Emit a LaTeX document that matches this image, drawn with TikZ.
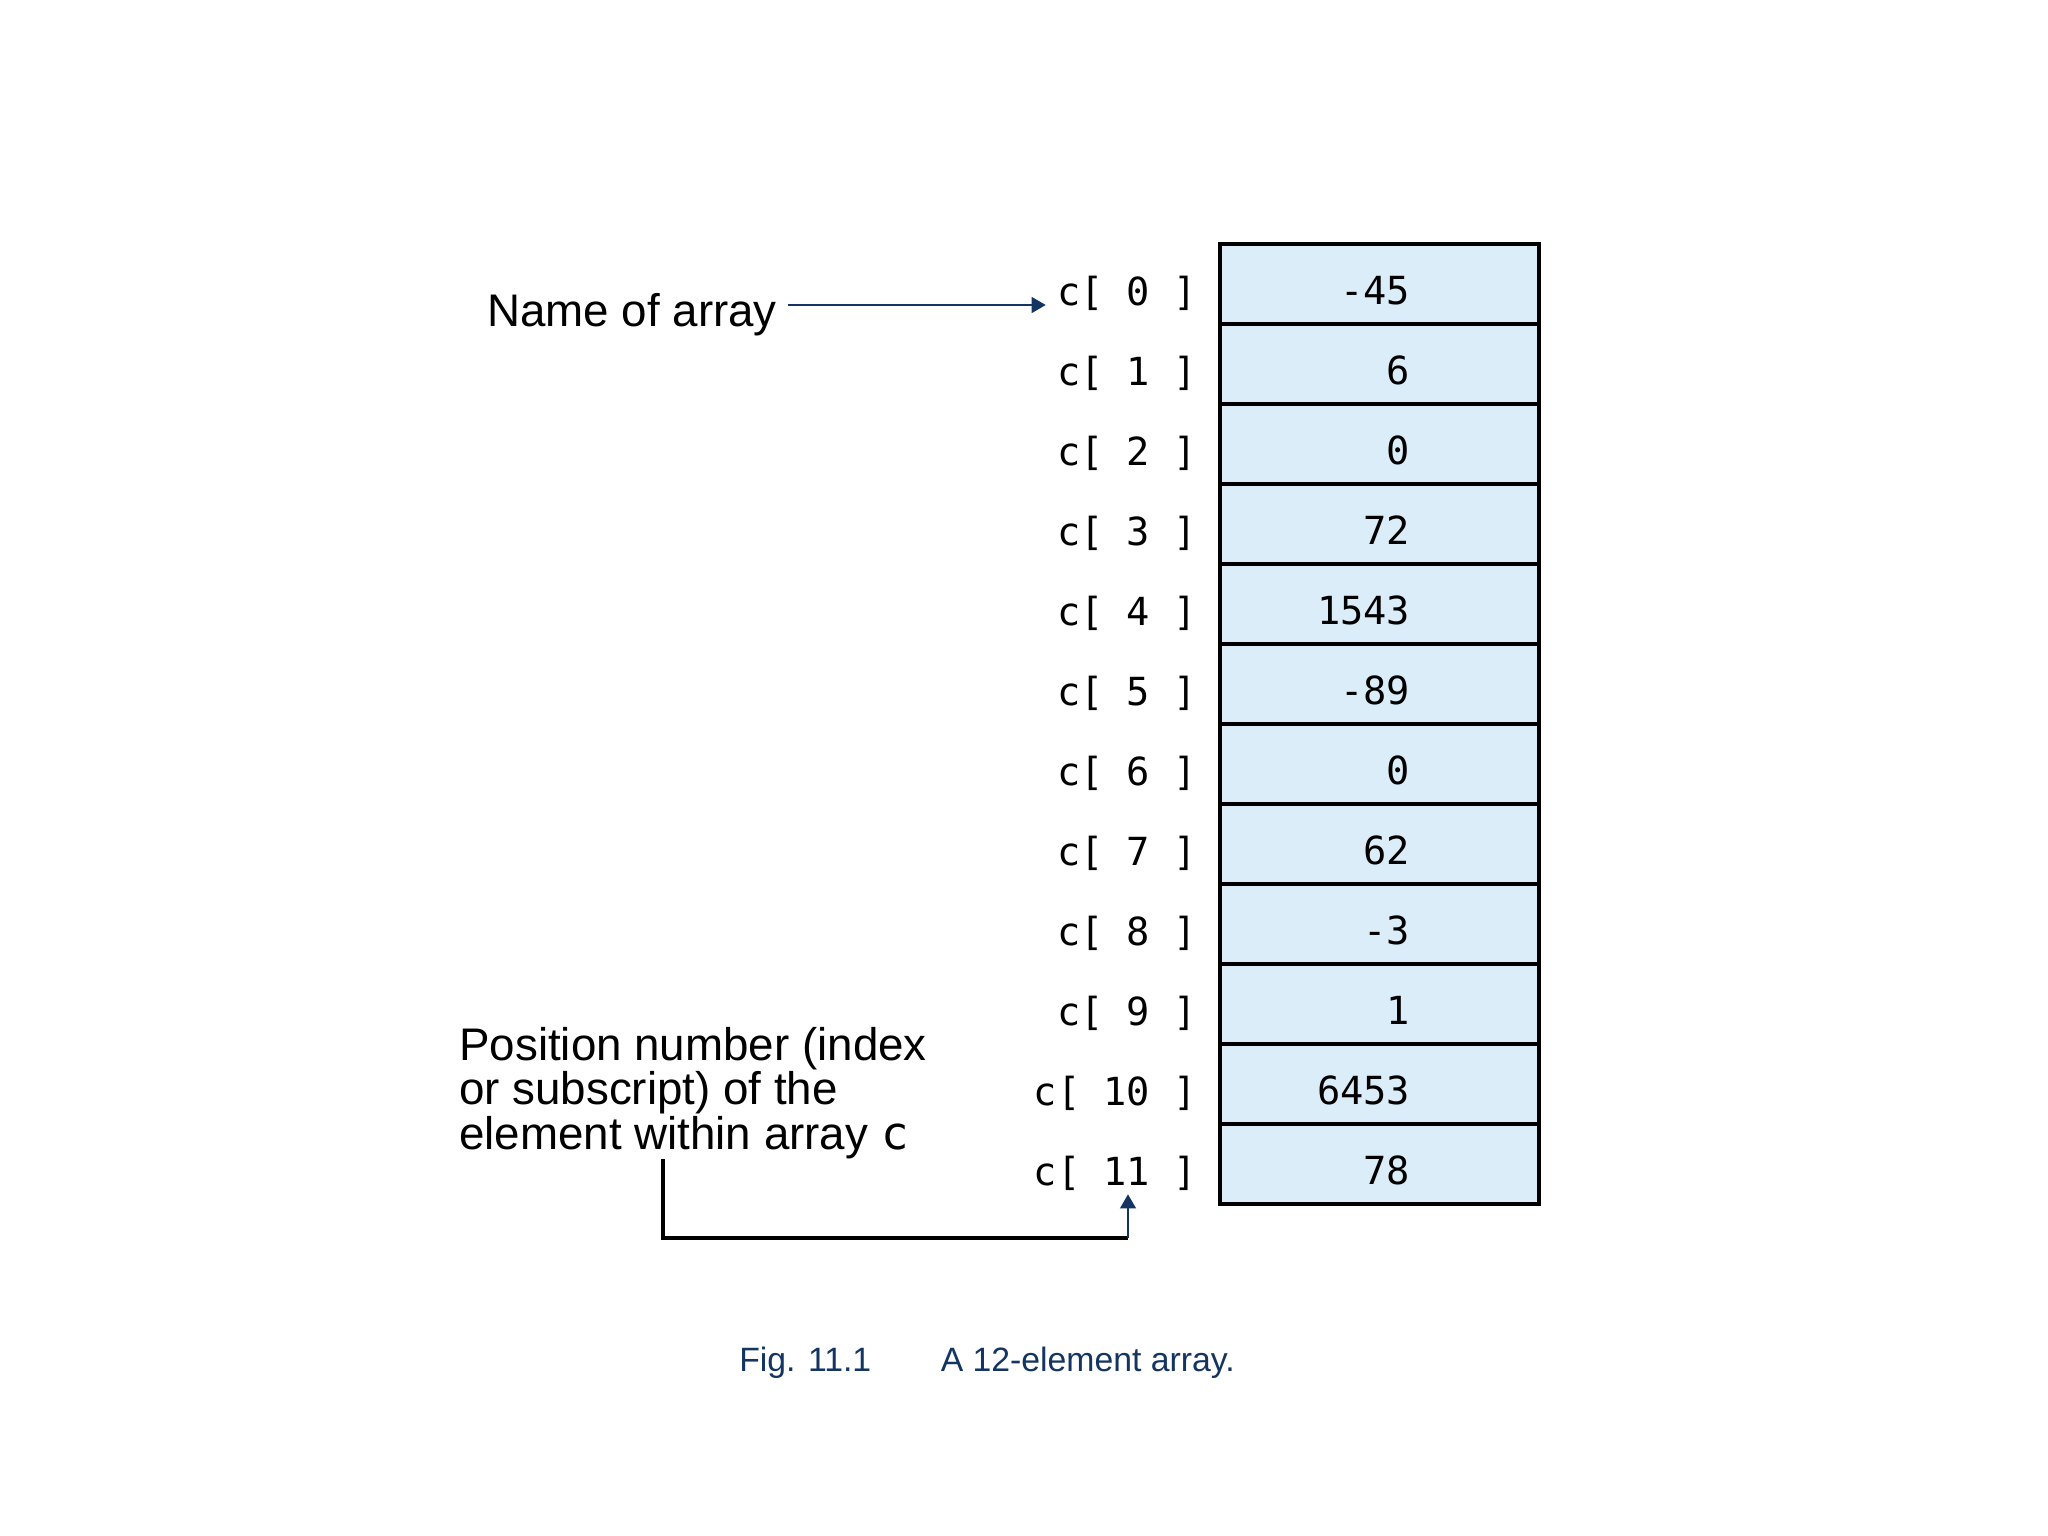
\documentclass[tikz,border=0pt]{standalone}
\usepackage{fontspec}
\setmainfont{Liberation Sans}
\setmonofont{DejaVu Sans Mono}
\usetikzlibrary{arrows.meta,positioning}
\definecolor{cellblue}{RGB}{219,237,248}
\definecolor{figblue}{RGB}{20,52,98}
\begin{document}
\begin{tikzpicture}[x=0.01cm, y=-0.01cm,
	cell/.style={draw, line width=1.2pt, fill=cellblue, minimum width=3.19cm, minimum height=0.8cm, inner sep=0pt},
	code/.style={font=\fontsize{11}{13}\selectfont\ttfamily, inner xsep=3pt, inner ysep=1pt},
	note/.style={font=\fontsize{13}{12.6}\selectfont, inner xsep=3pt, inner ysep=0pt, align=left},
	caption/.style={font=\fontsize{9.6}{12}\selectfont, text=figblue, inner sep=3pt},
	ptr/.style={-{Triangle[length=4pt, width=4.5pt]}, figblue, line width=0.5pt}]
		\useasboundingbox[fill=white] (0,0) rectangle (2048,1536);

		\foreach \v [count=\i from 0] in {-45,6,0,72,1543,-89,0,62,-3,1,6453,78} {
			\node[cell] (cell\i) at (1379.5,284+80*\i) {};
			\node[code, anchor=base east] (val\i) at (1421.5,304+80*\i) {\v};
			\node[code, anchor=base east] (lab\i) at (1208,305+80*\i) {c[ \i\ ]};
		}

		\node[note, anchor=base west] (name) at (476,326) {Name of array};
		\draw[ptr] (name.east |- lab0.base) -- (lab0.base west);

		\node[note, anchor=base west] (pos) at (448,1149) {Position number (index\\or subscript) of the\\element within array {\ttfamily c}};
		\coordinate (knee) at (663,1238);
		\coordinate (bend) at (1128,1238);
		\draw[line width=1.1pt] (knee |- pos.south) -- (knee) -- (bend);
		\draw[ptr] (bend) -- (bend |- lab11.south);

		\node[caption, anchor=base west] (figno) at (728,1371) {Fig. 11.1};
		\node[caption, base right=0.47cm of figno] (figtitle) {A 12-element array.};
	\end{tikzpicture}
\end{document}
